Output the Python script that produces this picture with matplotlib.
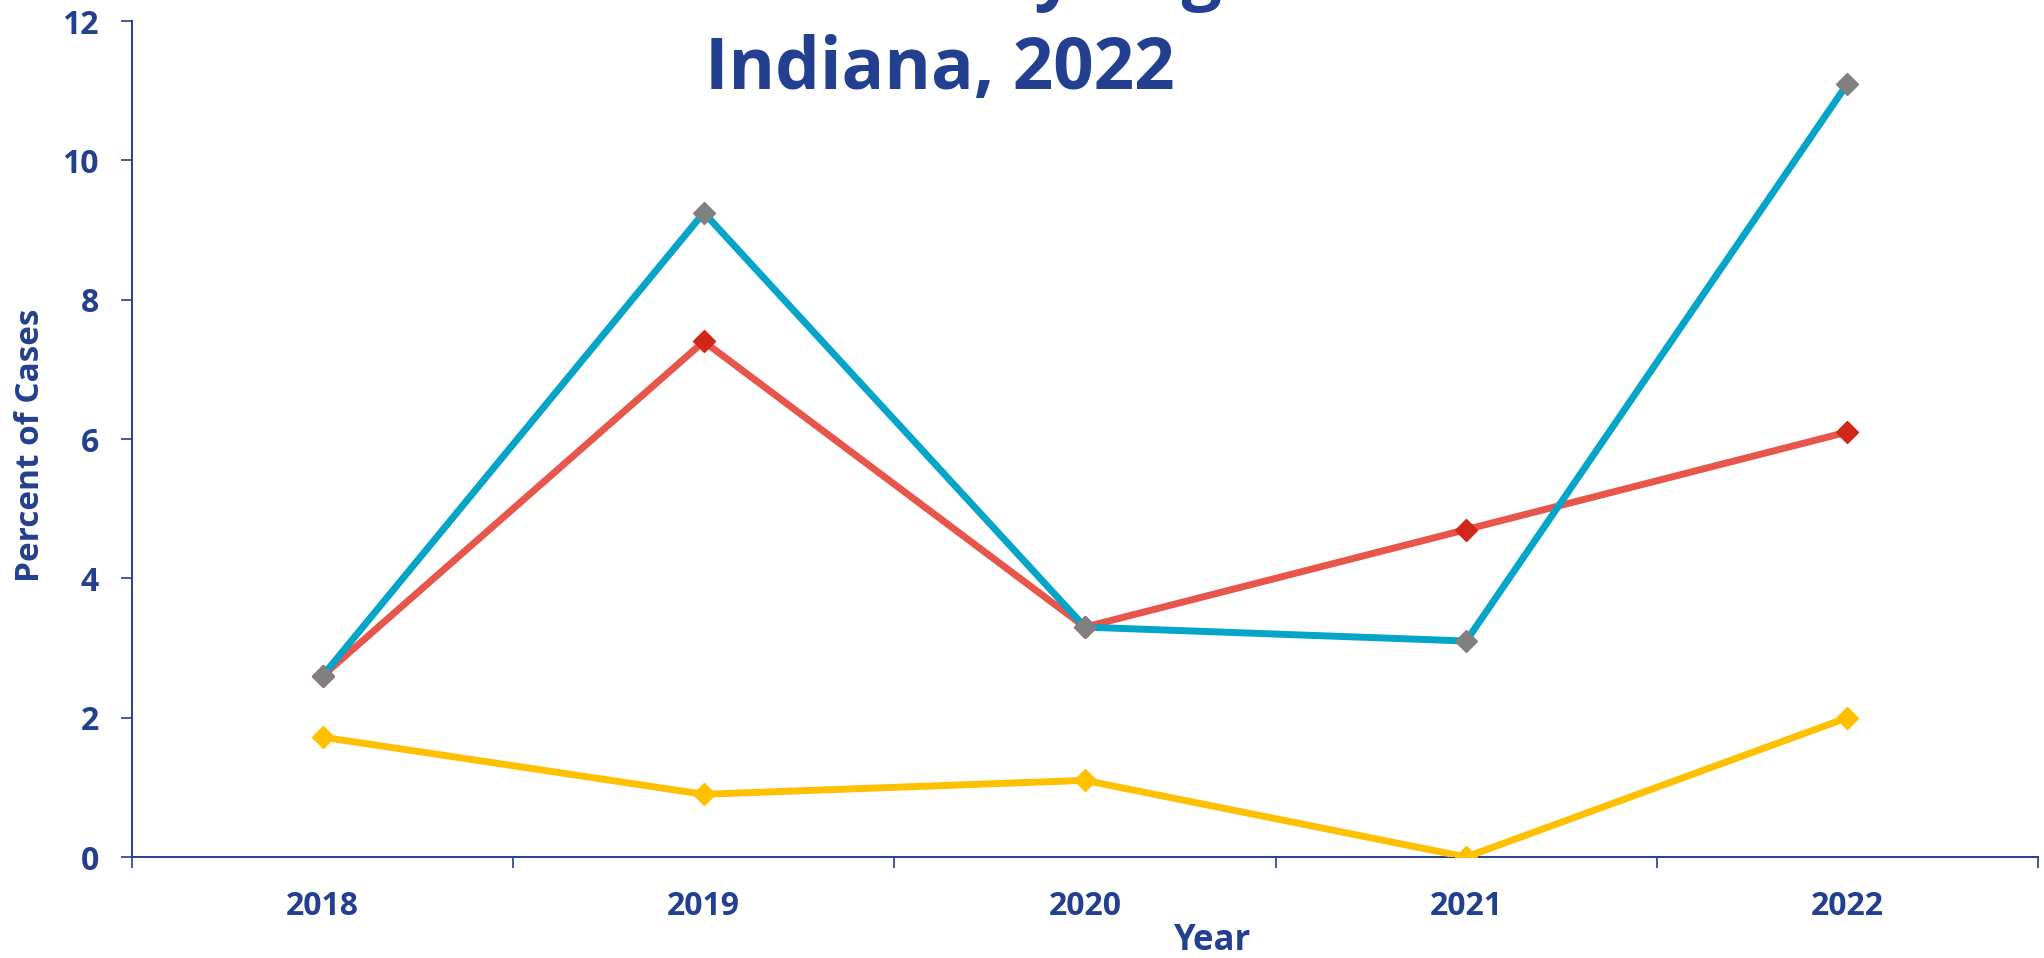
import matplotlib
matplotlib.use("Agg")
import matplotlib.pyplot as plt
from matplotlib.ticker import FixedLocator, MultipleLocator

# -------------------------------------------
# data

years = ['2018', '2019', '2020', '2021', '2022']
series_cyan = [2.6, 9.25, 3.3, 3.1, 11.1]
series_red = [2.6, 7.4, 3.3, 4.7, 6.1]
series_yellow = [1.72, 0.9, 1.1, 0.0, 2.0]

title_top = 'Percent of Cases by Region'
title_bottom = 'Indiana, 2022'

NAVY = '#233F8F'

# -------------------------------------------

plt.rcParams['font.family'] = ['Open Sans', 'DejaVu Sans']
plt.rcParams['font.weight'] = 'bold'

fig = plt.figure(figsize=(20.44, 9.58), dpi=100)
ax = fig.add_axes([132 / 2044, 1 - 857 / 958, (2038 - 132) / 2044, (857 - 21) / 958])

x = list(range(len(years)))
ax.plot(x, series_cyan, color='#05A5CA', lw=5, marker='D', ms=11,
        mfc='#808080', mec='#808080', zorder=3)
ax.plot(x, series_red, color='#E8554B', lw=5, marker='D', ms=11,
        mfc='#D2261B', mec='#D2261B', zorder=2)
ax.plot(x, series_yellow, color='#FFC000', lw=5, marker='D', ms=11,
        mfc='#FFC000', mec='#FFC000', zorder=2)

ax.set_xlim(-0.5, len(years) - 0.5)
ax.set_ylim(0, 12)
ax.yaxis.set_major_locator(MultipleLocator(2))

ax.set_xticks(x)
ax.set_xticklabels(years)
ax.xaxis.set_minor_locator(FixedLocator([i - 0.5 for i in range(len(years) + 1)]))
ax.tick_params(axis='x', which='major', length=0, pad=24, labelsize=23, labelcolor=NAVY)
ax.tick_params(axis='x', which='minor', length=8, width=1.2, color=NAVY, direction='out')
ax.tick_params(axis='y', length=8, width=1.2, color=NAVY, pad=16, labelsize=23, labelcolor=NAVY)
for lab in ax.get_xticklabels() + ax.get_yticklabels():
    lab.set_fontweight('bold')

for side in ['top', 'right']:
    ax.spines[side].set_visible(False)
for side in ['left', 'bottom']:
    ax.spines[side].set_color(NAVY)
    ax.spines[side].set_linewidth(1.4)
ax.spines['bottom'].set_zorder(1)

ax.set_ylabel('Percent of Cases', fontsize=24, fontweight='bold', color=NAVY, va='center')
ax.yaxis.set_label_coords(-0.053, 0.492)
ax.set_xlabel('Year', fontsize=25, fontweight='bold', color=NAVY, va='baseline')
ax.xaxis.set_label_coords(0.567, -0.111)

fig.text(940 / 2044, 1 - 89 / 958, title_bottom, fontsize=51, fontweight='bold',
         color=NAVY, ha='center', va='baseline')
# first title line sits above the canvas, only its descenders show
fig.text(863 / 2044, 1 + 4 / 958, title_top, fontsize=51, fontweight='bold',
         color=NAVY, ha='center', va='baseline')

fig.savefig('out.png', dpi=100)
